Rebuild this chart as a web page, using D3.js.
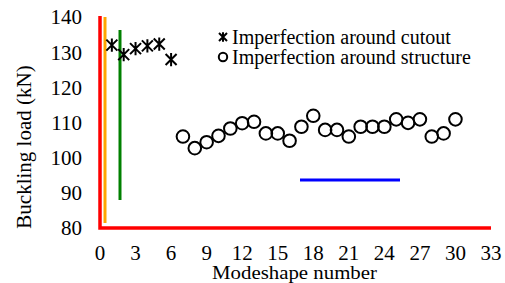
<!DOCTYPE html>
<html lang="en">
<head>
  <meta charset="utf-8" />
  <title>Buckling load vs modeshape</title>
  <script src="https://cdn.jsdelivr.net/npm/d3@7"></script>
</head>
<body style="margin:0">
<script>
// values
const cutoutModes = [1, 2, 3, 4, 5, 6];
const cutoutLoads = [132, 129.3, 131, 131.8, 132.3, 127.9];

const structModes = [7, 8, 9, 10, 11, 12, 13, 14, 15, 16, 17, 18, 19, 20, 21, 22, 23, 24, 25, 26, 27, 28, 29, 30];
const structLoads = [106, 102.7, 104.4, 106.2, 108.3, 109.8, 110.2, 106.9, 106.9, 104.8, 108.8, 111.9,
                     107.9, 107.9, 106, 108.8, 108.8, 108.8, 110.9, 109.9, 110.9, 106, 106.9, 110.9];

const xTicks = [0, 3, 6, 9, 12, 15, 18, 21, 24, 27, 30, 33];
const yTicks = [80, 90, 100, 110, 120, 130, 140];
const legendLabels = ["Imperfection around cutout", "Imperfection around structure"];

const W = 505, H = 283;
const svg = d3.select("body").append("svg")
  .attr("width", W).attr("height", H)
  .attr("font-family", "Liberation Serif, serif");

const x = d3.scaleLinear().domain([0, 33]).range([100, 491]);
const y = d3.scaleLinear().domain([80, 140]).range([228, 17]);

// diagnostics
svg.append("path").attr("d", "M100,16V228H491").attr("fill", "none").attr("stroke", "red").attr("stroke-width", 3.5);
svg.append("path").attr("d", "M120,30V200").attr("stroke", "green").attr("stroke-width", 3);
svg.append("path").attr("d", "M300,180H400").attr("stroke", "blue").attr("stroke-width", 3);
console.log("x0", x(0), "y140", y(140), "y80", y(80), "x33", x(33));
svg.append("path").attr("d", `M${x(0) + 5},${y(140)}V${y(80) - 5}`).attr("stroke", "orange").attr("stroke-width", 3);

// tick labels
svg.append("g").selectAll("text")
  .data(yTicks)
  .join("text")
  .attr("x", x(0) - 18)
  .attr("y", d => y(d))
  .attr("dy", "0.35em")
  .attr("text-anchor", "end")
  .attr("font-size", 21)
  .text(d => d);

svg.append("g").selectAll("text")
  .data(xTicks)
  .join("text")
  .attr("x", d => x(d))
  .attr("y", y(80) + 32)
  .attr("text-anchor", "middle")
  .attr("font-size", 21)
  .text(d => d);

svg.append("text")
  .attr("transform", `translate(31,147) rotate(-90)`)
  .attr("text-anchor", "middle")
  .attr("font-size", 21)
  .text("Buckling load (kN)");

svg.append("text")
  .attr("x", 212).attr("y", 279)
  .attr("font-size", 18)
  .attr("textLength", 165)
  .attr("lengthAdjust", "spacingAndGlyphs")
  .text("Modeshape number");

function star(g, cx, cy, s) {
  g.append("path")
    .attr("d", `M${cx - s},${cy - s}L${cx + s},${cy + s}M${cx - s},${cy + s}L${cx + s},${cy - s}M${cx},${cy - s * 1.2}V${cy + s * 1.2}`)
    .attr("stroke", "#000").attr("stroke-width", 2).attr("fill", "none");
}

const pts = svg.append("g");
cutoutModes.forEach((m, i) => star(pts, x(m), y(cutoutLoads[i]), 5.5));

pts.selectAll("circle.s")
  .data(structModes)
  .join("circle")
  .attr("class", "s")
  .attr("cx", d => x(d))
  .attr("cy", (d, i) => y(structLoads[i]))
  .attr("r", 6.3)
  .attr("fill", "none")
  .attr("stroke", "#000")
  .attr("stroke-width", 2);

const lg = svg.append("g");
star(lg, 223, 37, 4);
lg.append("circle").attr("cx", 223).attr("cy", 57).attr("r", 4.2)
  .attr("fill", "none").attr("stroke", "#000").attr("stroke-width", 2);
lg.selectAll("text")
  .data(legendLabels)
  .join("text")
  .attr("x", 232)
  .attr("y", (d, i) => 44 + i * 20)
  .attr("font-size", 20)
  .text(d => d);
</script>
</body>
</html>
